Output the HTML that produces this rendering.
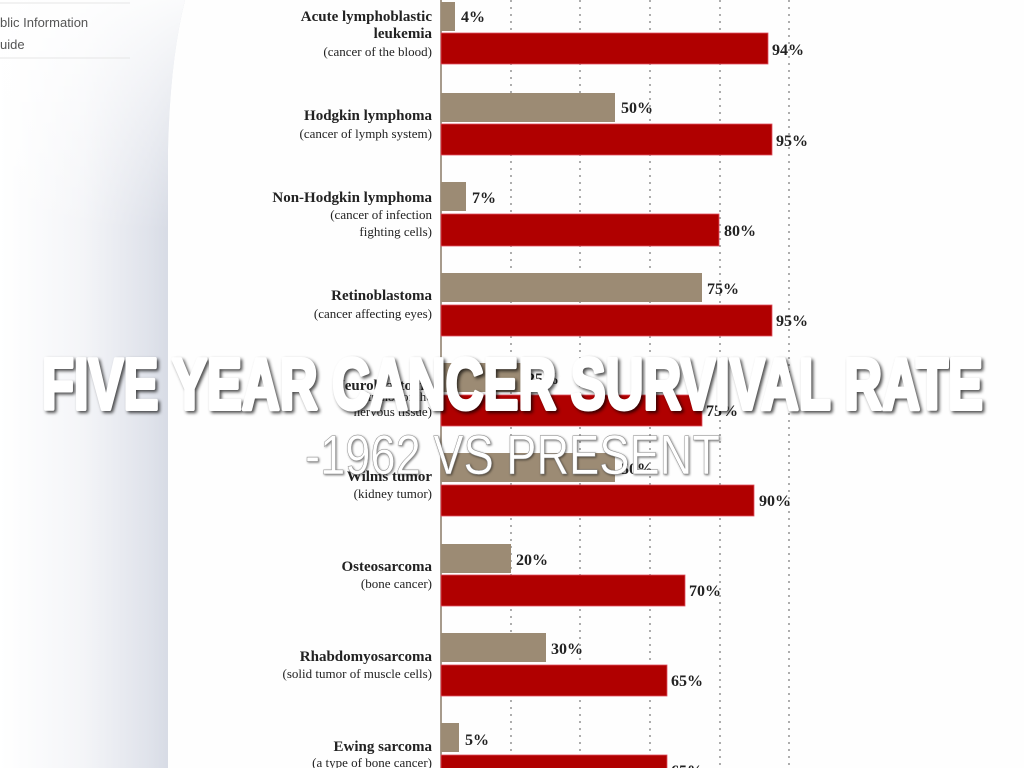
<!DOCTYPE html>
<html><head><meta charset="utf-8"><style>
html,body{margin:0;padding:0;background:#fff;}
svg{display:block}
</style></head><body>
<svg width="1024" height="768" viewBox="0 0 1024 768" xmlns="http://www.w3.org/2000/svg">
<defs>
<linearGradient id="side" x1="0" x2="1" y1="0" y2="0">
<stop offset="0" stop-color="#ffffff"/>
<stop offset="0.45" stop-color="#f4f5f8"/>
<stop offset="0.8" stop-color="#e0e3eb"/>
<stop offset="1" stop-color="#d0d5e0"/>
</linearGradient>
<linearGradient id="sideV" x1="0" x2="0" y1="0" y2="1">
<stop offset="0" stop-color="#fff" stop-opacity="0.9"/>
<stop offset="0.3" stop-color="#fff" stop-opacity="0"/>
</linearGradient>
</defs>
<rect width="1024" height="768" fill="#fefefe"/>
<path d="M0 0 H185 Q170 60 168 150 V768 H0 Z" fill="url(#side)"/>
<path d="M0 0 H185 Q170 60 168 150 V768 H0 Z" fill="url(#sideV)"/>
<line x1="0" y1="3" x2="130" y2="3" stroke="#e6e6e6"/>
<line x1="0" y1="58" x2="130" y2="58" stroke="#e6e6e6"/>
<text x="0" y="27" font-family="Liberation Sans, sans-serif" font-size="13" fill="#555">blic Information</text>
<text x="0" y="49" font-family="Liberation Sans, sans-serif" font-size="13" fill="#555">uide</text>

<g stroke="#999" stroke-width="1.6" stroke-dasharray="2,5">
<line x1="511" y1="0" x2="511" y2="768"/>
<line x1="580" y1="0" x2="580" y2="768"/>
<line x1="650" y1="0" x2="650" y2="768"/>
<line x1="720" y1="0" x2="720" y2="768"/>
<line x1="789" y1="0" x2="789" y2="768"/>
</g>
<line x1="441" y1="0" x2="441" y2="768" stroke="#8a7a66" stroke-width="1.5"/>

<g font-family="Liberation Serif, serif" fill="#222">
<g fill="#9c8b74">
<rect x="441" y="2" width="14" height="29"/>
<rect x="441" y="93" width="174" height="29"/>
<rect x="441" y="182" width="25" height="29"/>
<rect x="441" y="273" width="261" height="29"/>
<rect x="441" y="363" width="80" height="29"/>
<rect x="441" y="453" width="174" height="29"/>
<rect x="441" y="544" width="70" height="29"/>
<rect x="441" y="633" width="105" height="29"/>
<rect x="441" y="723" width="18" height="29"/>
</g>
<g fill="#b00000" stroke="#e05060" stroke-width="0.8">
<rect x="441" y="33" width="327" height="31"/>
<rect x="441" y="124" width="331" height="31"/>
<rect x="441" y="214" width="278" height="32"/>
<rect x="441" y="305" width="331" height="31"/>
<rect x="441" y="395" width="261" height="31"/>
<rect x="441" y="485" width="313" height="31"/>
<rect x="441" y="575" width="244" height="31"/>
<rect x="441" y="665" width="226" height="31"/>
<rect x="441" y="755" width="226" height="31"/>
</g>
<g font-weight="bold" font-size="16">
<text x="461" y="22">4%</text><text x="772" y="55">94%</text>
<text x="621" y="113">50%</text><text x="776" y="146">95%</text>
<text x="472" y="203">7%</text><text x="724" y="236">80%</text>
<text x="707" y="294">75%</text><text x="776" y="326">95%</text>
<text x="527" y="384">25%</text><text x="706" y="416">75%</text>
<text x="621" y="474">50%</text><text x="759" y="506">90%</text>
<text x="516" y="565">20%</text><text x="689" y="596">70%</text>
<text x="551" y="654">30%</text><text x="671" y="686">65%</text>
<text x="465" y="745">5%</text><text x="671" y="776">65%</text>
</g>
<g text-anchor="end">
<g font-weight="bold" font-size="15">
<text x="432" y="21">Acute lymphoblastic</text>
<text x="432" y="38">leukemia</text>
<text x="432" y="120">Hodgkin lymphoma</text>
<text x="432" y="202">Non-Hodgkin lymphoma</text>
<text x="432" y="300">Retinoblastoma</text>
<text x="432" y="390">Neuroblastoma</text>
<text x="432" y="481">Wilms tumor</text>
<text x="432" y="571">Osteosarcoma</text>
<text x="432" y="661">Rhabdomyosarcoma</text>
<text x="432" y="751">Ewing sarcoma</text>
</g>
<g font-size="13">
<text x="432" y="56">(cancer of the blood)</text>
<text x="432" y="138">(cancer of lymph system)</text>
<text x="432" y="219">(cancer of infection</text>
<text x="432" y="236">fighting cells)</text>
<text x="432" y="318">(cancer affecting eyes)</text>
<text x="432" y="401">(tumor of the</text>
<text x="432" y="416">nervous tissue)</text>
<text x="432" y="498">(kidney tumor)</text>
<text x="432" y="588">(bone cancer)</text>
<text x="432" y="678">(solid tumor of muscle cells)</text>
<text x="432" y="767">(a type of bone cancer)</text>
</g>
</g>
</g>

<g style="filter:drop-shadow(2px 2px 1.5px rgba(0,0,0,0.7))">
<text x="42" y="409" textLength="941" lengthAdjust="spacingAndGlyphs" font-family="Liberation Sans Narrow, Liberation Sans, sans-serif" font-weight="bold" font-size="72" fill="#fff" stroke="#fff" stroke-width="4" stroke-linejoin="round">FIVE YEAR CANCER SURVIVAL RATE</text>
</g>
<text x="305" y="474" textLength="415" lengthAdjust="spacingAndGlyphs" font-family="Liberation Sans Narrow, Liberation Sans, sans-serif" font-size="56" fill="#fff" stroke="#888" stroke-width="0.5" style="filter:drop-shadow(1px 1px 1px rgba(0,0,0,0.5))">-1962 VS PRESENT</text>
</svg>
</body></html>
